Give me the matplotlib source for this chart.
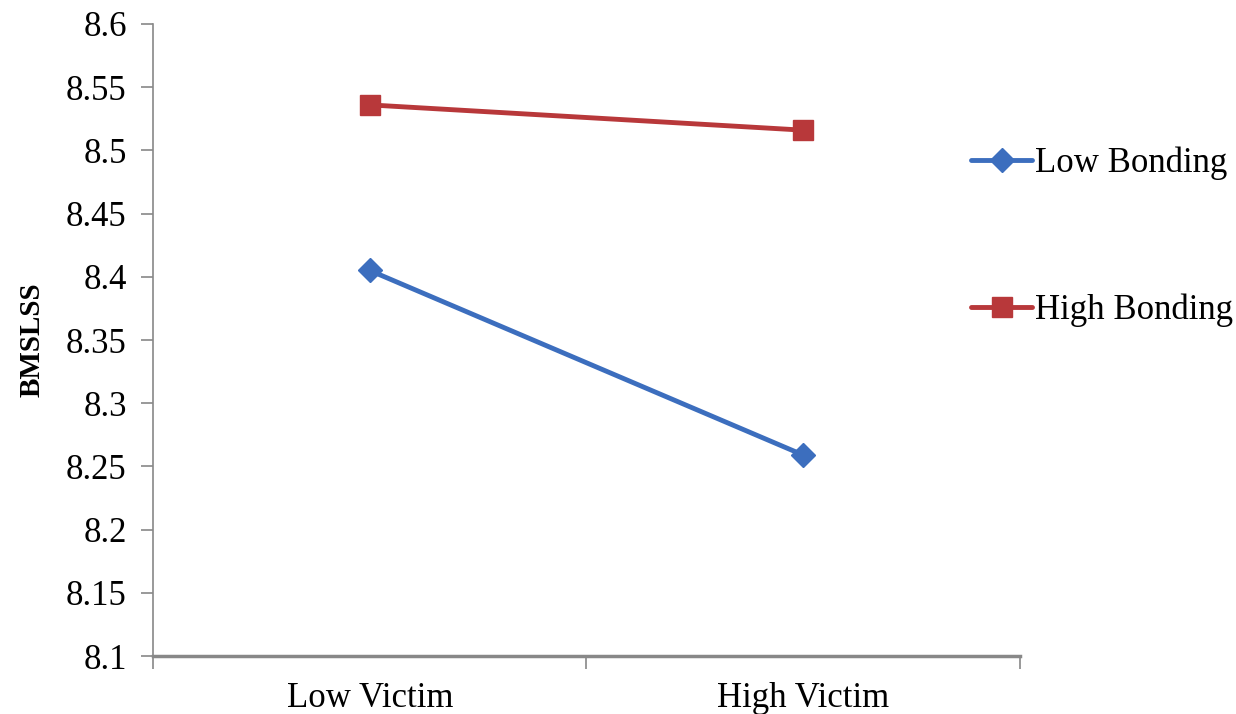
import matplotlib
matplotlib.use("Agg")
import matplotlib.pyplot as plt

categories = ["Low Victim", "High Victim"]
low_bonding = [8.405, 8.259]
high_bonding = [8.536, 8.516]
yticks = [8.1, 8.15, 8.2, 8.25, 8.3, 8.35, 8.4, 8.45, 8.5, 8.55, 8.6]
ytick_labels = ["8.1", "8.15", "8.2", "8.25", "8.3", "8.35", "8.4", "8.45", "8.5", "8.55", "8.6"]

plt.rcParams['font.family'] = ['Liberation Serif', 'DejaVu Serif']

fig = plt.figure(figsize=(12.36, 7.14), dpi=100)
ax = fig.add_axes([0.1238, 0.0812, 0.7014, 0.8852])

xpos = [0.5, 1.5]
ax.plot(xpos, low_bonding, color="#3C6EBE", lw=3.5, marker="D", markersize=12.5,
        label="Low Bonding", solid_capstyle="round")
ax.plot(xpos, high_bonding, color="#B8383A", lw=3.5, marker="s", markersize=14,
        label="High Bonding", solid_capstyle="round")

ax.set_xlim(0, 2)
ax.set_ylim(8.1, 8.6)
ax.set_yticks(yticks)
ax.set_yticklabels(ytick_labels, fontsize=25)
ax.set_xticks([0, 1, 2])
ax.set_xticklabels([])
ax.set_xticks(xpos, minor=True)
ax.set_xticklabels(categories, minor=True, fontsize=25)
ax.tick_params(axis='x', which='minor', length=0, pad=19)
ax.tick_params(axis='x', which='major', length=9, color="#888888", width=1.2, direction='out')
ax.tick_params(axis='y', length=9, color="#888888", width=1.2, direction='out', pad=10)

for s in ["top", "right"]:
    ax.spines[s].set_visible(False)
ax.spines["left"].set_color("#888888")
ax.spines["left"].set_linewidth(1.2)
ax.spines["bottom"].set_color("#888888")
ax.spines["bottom"].set_linewidth(2.5)

ax.set_ylabel("BMSLSS", fontsize=21, fontweight="bold")
ax.yaxis.set_label_coords(-0.124, 0.5)

leg = fig.legend(loc="upper left", bbox_to_anchor=(0.7605, 0.839), frameon=False,
                 fontsize=25, handlelength=1.75, handletextpad=0.1, labelspacing=3.27)

fig.savefig("out.png", dpi=100)
